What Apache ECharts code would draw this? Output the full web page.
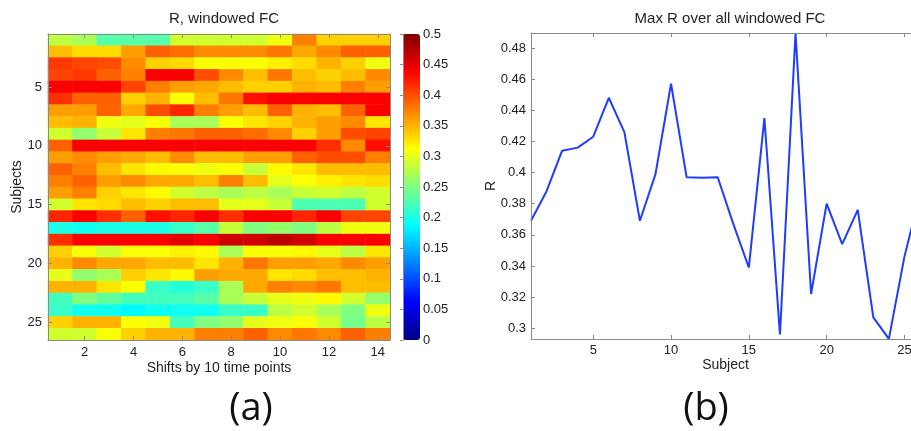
<!DOCTYPE html>
<html>
    <head>
        <meta charset="utf-8" />
        <script src="https://cdn.jsdelivr.net/npm/echarts@6.0.0/dist/echarts.min.js"></script>
    </head>
    <body>
        <style>
            html, body, #main {
                width: 100%;
                padding: 0;
                margin: 0;
                height: 100%;
                background: #fff;
            }
        </style>
        <div id="main"></div>
        <script>
            // heatmap (a): windowed R per subject (rows) and shift (columns)
            var shiftLabels = ['1', '2', '3', '4', '5', '6', '7', '8', '9', '10', '11', '12', '13', '14'];
            var subjectLabels = [];
            for (var s = 1; s <= 26; s++) subjectLabels.push(String(s));

            var windowedR = [
                [0.28, 0.27, 0.23, 0.23, 0.23, 0.29, 0.29, 0.29, 0.29, 0.305, 0.375, 0.335, 0.335, 0.335],
                [0.345, 0.33, 0.33, 0.36, 0.39, 0.385, 0.37, 0.37, 0.37, 0.38, 0.355, 0.37, 0.39, 0.39],
                [0.41, 0.405, 0.40, 0.37, 0.335, 0.33, 0.31, 0.31, 0.31, 0.32, 0.33, 0.35, 0.335, 0.305],
                [0.405, 0.41, 0.39, 0.375, 0.44, 0.44, 0.40, 0.37, 0.345, 0.38, 0.345, 0.335, 0.345, 0.37],
                [0.44, 0.44, 0.44, 0.405, 0.375, 0.36, 0.355, 0.345, 0.335, 0.335, 0.35, 0.345, 0.375, 0.36],
                [0.415, 0.39, 0.39, 0.335, 0.35, 0.31, 0.345, 0.38, 0.43, 0.44, 0.44, 0.44, 0.44, 0.44],
                [0.36, 0.36, 0.39, 0.355, 0.40, 0.42, 0.375, 0.36, 0.345, 0.39, 0.35, 0.345, 0.39, 0.44],
                [0.345, 0.35, 0.305, 0.30, 0.31, 0.27, 0.27, 0.31, 0.325, 0.335, 0.35, 0.36, 0.37, 0.325],
                [0.29, 0.26, 0.285, 0.325, 0.375, 0.38, 0.39, 0.39, 0.385, 0.37, 0.335, 0.36, 0.40, 0.405],
                [0.39, 0.44, 0.44, 0.44, 0.44, 0.44, 0.44, 0.44, 0.44, 0.44, 0.44, 0.415, 0.37, 0.43],
                [0.36, 0.37, 0.36, 0.355, 0.345, 0.37, 0.345, 0.345, 0.36, 0.36, 0.39, 0.40, 0.40, 0.375],
                [0.39, 0.375, 0.345, 0.325, 0.315, 0.31, 0.305, 0.31, 0.285, 0.315, 0.325, 0.345, 0.345, 0.345],
                [0.375, 0.39, 0.36, 0.37, 0.355, 0.355, 0.345, 0.375, 0.345, 0.30, 0.31, 0.32, 0.325, 0.33],
                [0.36, 0.375, 0.335, 0.325, 0.315, 0.29, 0.28, 0.27, 0.28, 0.27, 0.285, 0.29, 0.28, 0.29],
                [0.29, 0.325, 0.33, 0.345, 0.335, 0.345, 0.345, 0.30, 0.30, 0.285, 0.225, 0.225, 0.225, 0.29],
                [0.42, 0.44, 0.415, 0.39, 0.43, 0.42, 0.44, 0.415, 0.44, 0.44, 0.42, 0.44, 0.405, 0.405],
                [0.20, 0.195, 0.20, 0.20, 0.20, 0.215, 0.23, 0.285, 0.25, 0.26, 0.25, 0.28, 0.305, 0.305],
                [0.415, 0.44, 0.44, 0.44, 0.44, 0.45, 0.44, 0.46, 0.46, 0.47, 0.46, 0.44, 0.44, 0.44],
                [0.335, 0.31, 0.29, 0.31, 0.31, 0.32, 0.315, 0.27, 0.31, 0.31, 0.315, 0.30, 0.28, 0.325],
                [0.35, 0.37, 0.355, 0.355, 0.345, 0.345, 0.325, 0.35, 0.38, 0.36, 0.36, 0.355, 0.37, 0.36],
                [0.30, 0.26, 0.27, 0.335, 0.325, 0.315, 0.36, 0.355, 0.355, 0.325, 0.33, 0.345, 0.345, 0.35],
                [0.35, 0.35, 0.325, 0.31, 0.215, 0.205, 0.215, 0.27, 0.355, 0.375, 0.37, 0.38, 0.345, 0.345],
                [0.22, 0.25, 0.235, 0.22, 0.22, 0.22, 0.23, 0.27, 0.285, 0.30, 0.305, 0.315, 0.29, 0.26],
                [0.215, 0.195, 0.195, 0.185, 0.195, 0.195, 0.195, 0.215, 0.215, 0.28, 0.29, 0.27, 0.25, 0.305],
                [0.335, 0.35, 0.35, 0.31, 0.305, 0.22, 0.25, 0.26, 0.30, 0.305, 0.31, 0.29, 0.245, 0.28],
                [0.29, 0.29, 0.31, 0.335, 0.35, 0.35, 0.375, 0.375, 0.39, 0.37, 0.38, 0.37, 0.39, 0.375]
            ];

            // line (b): max R over all windows, per subject
            var subjects = [1, 2, 3, 4, 5, 6, 7, 8, 9, 10, 11, 12, 13, 14, 15, 16, 17, 18, 19, 20, 21, 22, 23, 24, 25, 26];
            var maxR = [0.369, 0.388, 0.414, 0.416, 0.423, 0.448, 0.426, 0.369, 0.399, 0.457, 0.397, 0.3966, 0.397,
                0.367, 0.339, 0.435, 0.296, 0.4895, 0.322, 0.380, 0.354, 0.376, 0.307, 0.2932, 0.346, 0.386];

            var jet = ['#000080', '#0000ff', '#0080ff', '#00ffff', '#80ff80', '#ffff00', '#ff8000', '#ff0000', '#800000'];

            var heatData = [];
            windowedR.forEach(function (row, r) {
                row.forEach(function (v, c) {
                    heatData.push([c, r, v]);
                });
            });
            var lineData = subjects.map(function (x, i) { return [x, maxR[i]]; });

            var frame = '#8a8a8a';
            var txt = '#222';
            var font = 'Liberation Sans';
            var evenCol = function (i) { return i % 2 === 1; };
            var fifthRow = function (i) { return (i + 1) % 5 === 0; };
            var nameStyle = { color: txt, fontSize: 14, fontFamily: font };

            function catAxis(grid, data, pos, showLabel, interval, extra) {
                var a = {
                    type: 'category', gridIndex: grid, data: data, position: pos, z: 5,
                    nameMoveOverlap: false,
                    axisLine: { show: true, lineStyle: { color: frame, width: 1 } },
                    axisTick: { show: true, inside: true, length: 4, alignWithLabel: true, interval: interval,
                        lineStyle: { color: frame } },
                    axisLabel: { show: showLabel, interval: interval, color: txt, fontSize: 13, fontFamily: font, margin: 6 },
                    splitLine: { show: false }
                };
                for (var k in extra) a[k] = extra[k];
                return a;
            }

            function valAxis(grid, pos, min, max, step, showLabel, extra) {
                var a = {
                    type: 'value', gridIndex: grid, position: pos, min: min, max: max, z: 5,
                    nameMoveOverlap: false,
                    minInterval: step, maxInterval: step, splitNumber: Math.round((max - min) / step),
                    axisLine: { show: true, lineStyle: { color: frame, width: 1 } },
                    axisTick: { show: true, inside: true, length: 4, lineStyle: { color: frame } },
                    axisLabel: { show: showLabel, color: txt, fontSize: 13, fontFamily: font, margin: 5,
                        showMinLabel: false, showMaxLabel: false },
                    splitLine: { show: false }
                };
                for (var k in extra) a[k] = extra[k];
                return a;
            }

            var chart = echarts.init(document.getElementById('main'));

            chart.setOption({
                animation: false,
                backgroundColor: '#fff',
                textStyle: { fontFamily: font },
                title: [
                    { text: 'R, windowed FC', left: 219, top: 6, textAlign: 'center',
                        textStyle: { fontSize: 15, fontWeight: 'normal', color: txt, fontFamily: font } },
                    { text: 'Max R over all windowed FC', left: 725, top: 6, textAlign: 'center',
                        textStyle: { fontSize: 15, fontWeight: 'normal', color: txt, fontFamily: font } },
                    { text: '(a)', left: 246, top: 385, textAlign: 'center',
                        textStyle: { fontSize: 38, fontWeight: 'normal', color: '#111', fontFamily: 'Open Sans' } },
                    { text: '(b)', left: 701, top: 385, textAlign: 'center',
                        textStyle: { fontSize: 38, fontWeight: 'normal', color: '#111', fontFamily: 'Open Sans' } }
                ],
                grid: [
                    { left: 48, top: 34, width: 342, height: 306, outerBoundsMode: 'none' },
                    { left: 403, top: 34, width: 17, height: 306, outerBoundsMode: 'none' },
                    { left: 531, top: 33, width: 389, height: 306, outerBoundsMode: 'none' }
                ],
                xAxis: [
                    catAxis(0, shiftLabels, 'bottom', true, evenCol, {
                        name: 'Shifts by 10 time points', nameLocation: 'middle', nameGap: 21,
                        nameTextStyle: nameStyle
                    }),
                    catAxis(0, shiftLabels, 'top', false, evenCol, {}),
                    { type: 'value', gridIndex: 1, show: false, min: 0, max: 1 },
                    valAxis(2, 'bottom', 1, 26, 5, true, {
                        name: 'Subject', nameLocation: 'middle', nameGap: 19,
                        nameTextStyle: nameStyle
                    }),
                    valAxis(2, 'top', 1, 26, 5, false, {})
                ],
                yAxis: [
                    catAxis(0, subjectLabels, 'left', true, fifthRow, {
                        inverse: true,
                        name: 'Subjects', nameLocation: 'middle', nameGap: 24,
                        nameTextStyle: nameStyle
                    }),
                    catAxis(0, subjectLabels, 'right', false, fifthRow, { inverse: true }),
                    valAxis(1, 'right', 0, 0.5, 0.05, true, {
                        axisLabel: { show: true, color: txt, fontSize: 13, fontFamily: font, margin: 3 },
                        axisTick: { show: true, inside: true, length: 3, lineStyle: { color: frame } }
                    }),
                    valAxis(2, 'left', 0.2931, 0.4896, 0.02, true, {
                        name: 'R', nameLocation: 'middle', nameGap: 33,
                        nameTextStyle: nameStyle
                    }),
                    valAxis(2, 'right', 0.2931, 0.4896, 0.02, false, {})
                ],
                visualMap: {
                    type: 'continuous',
                    seriesIndex: 0,
                    min: 0,
                    max: 0.5,
                    calculable: false,
                    hoverLink: false,
                    orient: 'vertical',
                    left: 403,
                    top: 34,
                    padding: 0,
                    itemWidth: 17,
                    itemHeight: 306,
                    text: null,
                    showLabel: false,
                    inRange: { color: jet }
                },
                series: [
                    {
                        type: 'heatmap',
                        xAxisIndex: 0,
                        yAxisIndex: 0,
                        data: heatData,
                        itemStyle: { borderWidth: 0 },
                        emphasis: { disabled: true }
                    },
                    {
                        type: 'line',
                        xAxisIndex: 3,
                        yAxisIndex: 3,
                        data: lineData,
                        showSymbol: false,
                        lineStyle: { color: '#1f3dff', width: 2 },
                        itemStyle: { color: '#1f3dff' }
                    }
                ]
            });
        </script>
    </body>
</html>
